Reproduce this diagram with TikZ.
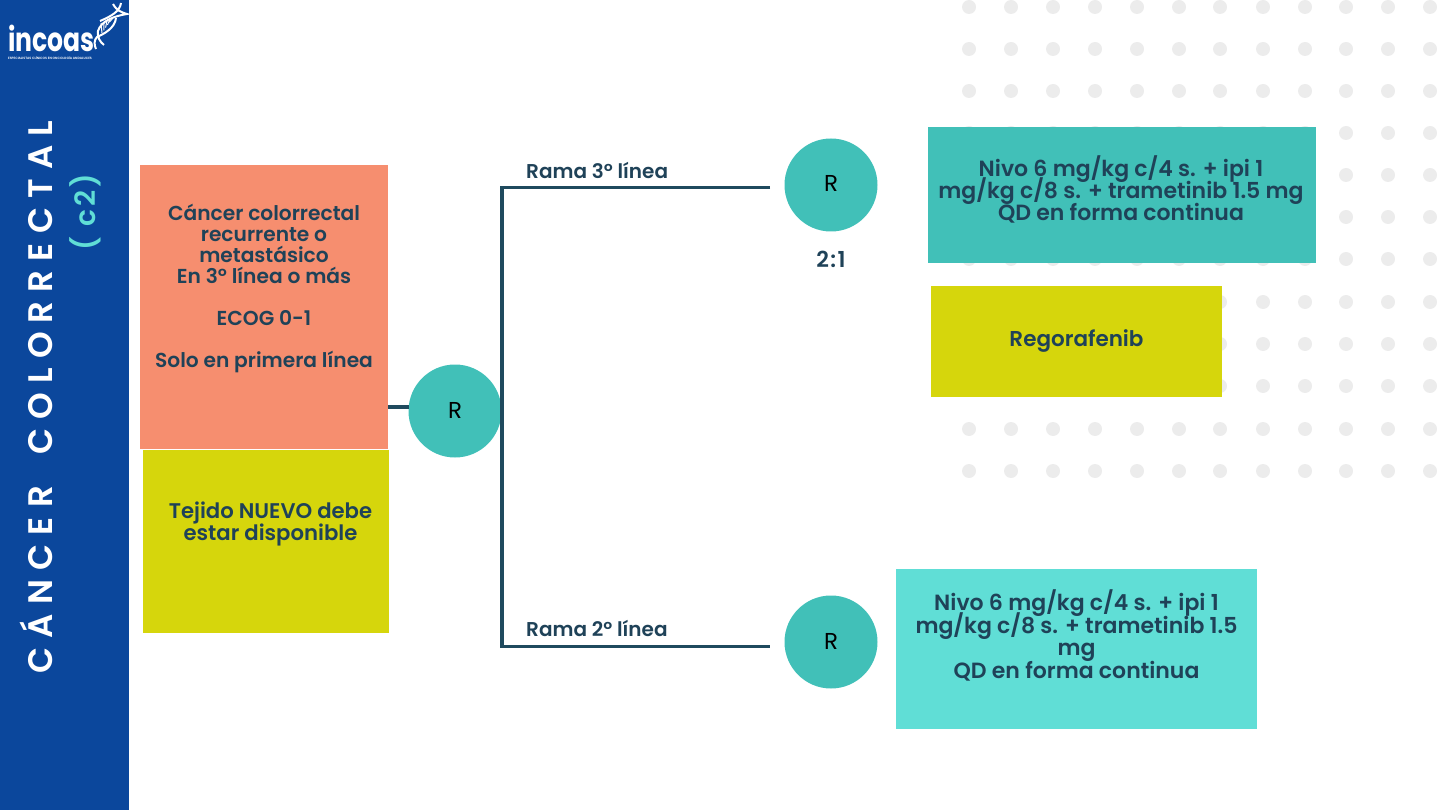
\documentclass[tikz,border=0pt]{standalone}
\usepackage{fontspec}
\setmainfont{Poppins}[UprightFont=* SemiBold,BoldFont=* Bold]
\newfontfamily\plainfont{Poppins}
\newfontfamily\barfont{Poppins}[UprightFont=* SemiBold,LetterSpace=27]
\newfontfamily\codefont{Poppins}[UprightFont=* SemiBold,LetterSpace=12]
\normallineskiplimit=-30pt
\lineskiplimit=-30pt
\definecolor{barblue}{HTML}{0B479C}
\definecolor{inktext}{HTML}{1F4258}
\definecolor{linedark}{HTML}{1F4A5E}
\definecolor{tealbox}{HTML}{41C0B8}
\definecolor{aquabox}{HTML}{60DED6}
\definecolor{limebox}{HTML}{D6D60C}
\definecolor{salmonbox}{HTML}{F68E6F}
\definecolor{dotgrey}{HTML}{ECECEC}

\begin{document}
\begin{tikzpicture}
[x=1pt,y=-1pt,%%%%%%%%%%%%%%%%%%%%%%%%%%%%%%
box/.style={rectangle,inner sep=0pt,text=inktext,align=center},
disc/.style={circle,fill=tealbox,minimum size=93pt,inner sep=0pt,text=black,font=\plainfont\fontsize{23}{23}\selectfont},
rama/.style={text=inktext,inner sep=0pt,font=\fontsize{20}{22}\selectfont},
branch/.style={draw=linedark,line width=3.6pt},
strand/.style={draw=white,line width=2pt},
rung/.style={draw=white,line width=1pt},
]%%%%%%%%%%%%%%%%%%%%%%%%%%%%%%
\useasboundingbox (0,0) rectangle (1440,810);

% dots
\foreach \x in {969,1011,1053,1095,1137,1179,1220,1263,1305,1346,1388,1430}{
\foreach \y in {7,49,91,133,175,217,259,302,344,386,429,471}
\fill[dotgrey] (\x,\y) circle (7);
}

% side bar
\fill[barblue] (0,0) rectangle (129,810);
\node[rotate=90,text=white,font=\barfont\fontsize{34}{34}\selectfont,inner sep=0pt] (title) at (36,397) {CÁNCER\hspace{14pt} COLORRECTAL};
\node[rotate=90,text=aquabox,font=\codefont\fontsize{28}{28}\selectfont,inner sep=0pt] (code) at (85,212) {( c2)};

% logo
\node[text=white,font=\bfseries\fontsize{33}{33}\selectfont,inner sep=0pt,anchor=base west,xscale=0.76] (logo) at (8,52) {incoas};
\node[text=white,font=\fontsize{3.2}{4}\selectfont,inner sep=0pt] (logosub) at (50,58) {ESPECIALISTAS CLÍNICOS EN ONCOLOGÍA ANDALUCES};
\draw[strand] (113,4) .. controls (117,11) and (121,12) .. (127,14) .. controls (114,16) and (101,21) .. (98,31) .. controls (97,37) and (100,42) .. (104,45);
\draw[strand] (121,3) .. controls (120,11) and (112,16) .. (100,21);
\draw[strand] (116,18) .. controls (115,28) and (104,34) .. (97,37) .. controls (94,40) and (94,45) .. (96,49);
\foreach \a in {0,3,...,12}
\draw[rung] (101+\a,23-\a*0.4) -- (102+\a*0.6,33-\a*0.9);

% boxes
\node[box,fill=salmonbox,minimum width=248pt,minimum height=284pt] (patient) at (264,307) {};
\node[box,font=\fontsize{20.2}{21}\selectfont] (patienttext) at (264,288.5) {Cáncer colorrectal\\recurrente o\\metastásico\\En 3º línea o más\\[21pt]ECOG 0-1\\[21pt]Solo en primera línea};
\node[box,fill=limebox,minimum width=246pt,minimum height=183pt] (tissue) at (265.5,541) {};
\node[box,font=\fontsize{21.2}{22}\selectfont] (tissuetext) at (270.5,524) {Tejido NUEVO debe\\estar disponible};
\node[box,fill=tealbox,minimum width=388pt,minimum height=136pt] (armtop) at (1122,195) {};
\node[box,font=\fontsize{22}{22}\selectfont] (armtoptext) at (1121,189.5) {Nivo 6 mg/kg c/4 s. + ipi 1\\mg/kg c/8 s. + trametinib 1.5 mg\\QD en forma continua};
\node[box,fill=limebox,minimum width=291pt,minimum height=111pt,font=\fontsize{21.5}{22}\selectfont] (armreg) at (1076.5,341.5) {\raisebox{-2pt}{Regorafenib}};
\node[box,fill=aquabox,minimum width=361pt,minimum height=160pt] (armlow) at (1076.5,649) {};
\node[box,font=\fontsize{22}{22}\selectfont] (armlowtext) at (1076.5,635.5) {Nivo 6 mg/kg c/4 s. + ipi 1\\[0.7pt]mg/kg c/8 s. + trametinib 1.5\\[0.7pt]mg\\[0.7pt]QD en forma continua};

% discs
\node[disc] (r0) at (455,411) {\raisebox{1pt}{R}};
\node[disc] (r1) at (831,185) {\raisebox{3pt}{R}};
\node[disc] (r2) at (831,642) {\raisebox{1pt}{R}};
\node[rama,font=\fontsize{22}{22}\selectfont] (ratio) at (831,259) {2\kern1.5pt:\kern1.5pt1};

% lines
\coordinate (top) at (770,187.5);
\coordinate (low) at (770,646.5);
\draw[branch] (patient.east|-r0.west)++(0,-4) -- ++(21,0);
\draw[branch] (top) -- (502,187.5) -- (502,646.5) -- (low);
\node[rama,anchor=west] (l3) at (526,170) {Rama 3º línea};
\node[rama,anchor=west] (l2) at (526,628) {Rama 2º línea};
\end{tikzpicture}
\end{document}
